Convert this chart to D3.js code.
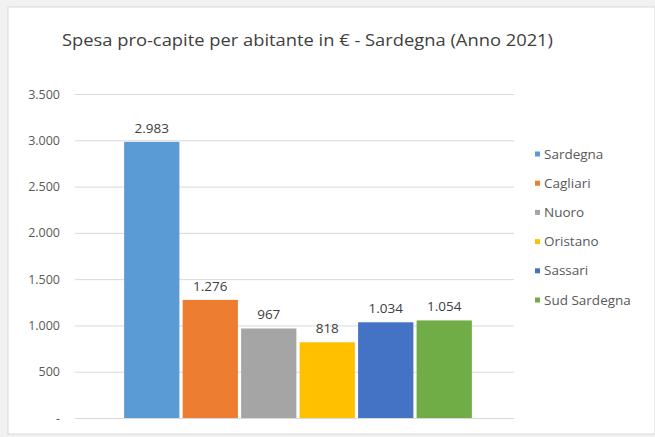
<!DOCTYPE html>
<html lang="it">
<head>
<meta charset="utf-8">
<title>Spesa pro-capite</title>
<script src="https://d3js.org/d3.v7.min.js"></script>
<style>
  body { margin: 0; background: #f1f1f1; }
  svg { display: block; font-family: "Open Sans", "Noto Sans", sans-serif; }
</style>
</head>
<body>
<script>
// data
var categories = ["Sardegna", "Cagliari", "Nuoro", "Oristano", "Sassari", "Sud Sardegna"];
var values = [2983, 1276, 967, 818, 1034, 1054];
var colors = ["#5b9bd5", "#ed7d31", "#a5a5a5", "#ffc000", "#4472c4", "#70ad47"];
var yTicks = [0, 500, 1000, 1500, 2000, 2500, 3000, 3500];
var title = "Spesa pro-capite per abitante in € - Sardegna (Anno 2021)";

var w = 655, h = 437;
var it = d3.formatLocale({decimal: ",", thousands: ".", grouping: [3], currency: ["", " €"]});
var fmt = it.format(",d");

var svg = d3.select("body").append("svg")
    .attr("width", w)
    .attr("height", h);

// chart frame
svg.append("rect")
    .attr("x", 8).attr("y", 7)
    .attr("width", w - 8).attr("height", 427)
    .attr("fill", "#fff")
    .attr("stroke", "#d9d9d9");

var x = d3.scaleBand()
    .domain(categories)
    .range([75, 521])
    .paddingInner(0.055)
    .paddingOuter(0.84);

var y = d3.scaleLinear()
    .domain([0, 3500])
    .range([418, 94]);

// gridlines
svg.append("g")
    .selectAll("line")
    .data(yTicks)
    .enter()
    .append("line")
    .attr("x1", 75)
    .attr("x2", 514)
    .attr("y1", function(d) { return y(d) + 0.5; })
    .attr("y2", function(d) { return y(d) + 0.5; })
    .attr("stroke", "#d9d9d9")
    .attr("stroke-width", 1);

// y axis labels
var yAxis = d3.axisLeft(y)
    .tickValues(yTicks)
    .tickSize(0)
    .tickPadding(0)
    .tickFormat(function(d) { return d === 0 ? "-" : fmt(d); });

var ya = svg.append("g")
    .attr("transform", "translate(60,0)")
    .call(yAxis);
ya.select(".domain").remove();
ya.selectAll("text")
    .attr("fill", "#595959")
    .attr("font-size", "12.5px")
    .attr("font-family", "'Open Sans', sans-serif");

// bars
svg.selectAll("rect.bar")
    .data(values)
    .enter()
    .append("rect")
    .attr("class", "bar")
    .attr("x", function(d, i) { return x(categories[i]); })
    .attr("y", function(d) { return y(d); })
    .attr("width", x.bandwidth())
    .attr("height", function(d) { return y(0) - y(d); })
    .attr("fill", function(d, i) { return colors[i]; });

// value labels
svg.selectAll("text.val")
    .data(values)
    .enter()
    .append("text")
    .attr("class", "val")
    .text(function(d) { return fmt(d); })
    .attr("x", function(d, i) { return x(categories[i]) + x.bandwidth() / 2; })
    .attr("y", function(d) { return y(d) - 9; })
    .attr("text-anchor", "middle")
    .attr("font-size", "13.5px")
    .attr("fill", "#404040");

// title
svg.append("text")
    .text(title)
    .attr("x", 62)
    .attr("y", 46)
    .attr("font-size", "17px")
    .attr("fill", "#404040")
    .attr("textLength", 491)
    .attr("lengthAdjust", "spacingAndGlyphs");

// legend
var leg = svg.append("g")
    .selectAll("g")
    .data(categories)
    .enter()
    .append("g")
    .attr("transform", function(d, i) { return "translate(535," + (154 + i * 29.2) + ")"; });

leg.append("rect")
    .attr("x", 0).attr("y", -2.5)
    .attr("width", 5).attr("height", 5)
    .attr("fill", function(d, i) { return colors[i]; });

leg.append("text")
    .text(function(d) { return d; })
    .attr("x", 9)
    .attr("y", 4.5)
    .attr("font-size", "13.5px")
    .attr("fill", "#595959");
</script>
</body>
</html>
